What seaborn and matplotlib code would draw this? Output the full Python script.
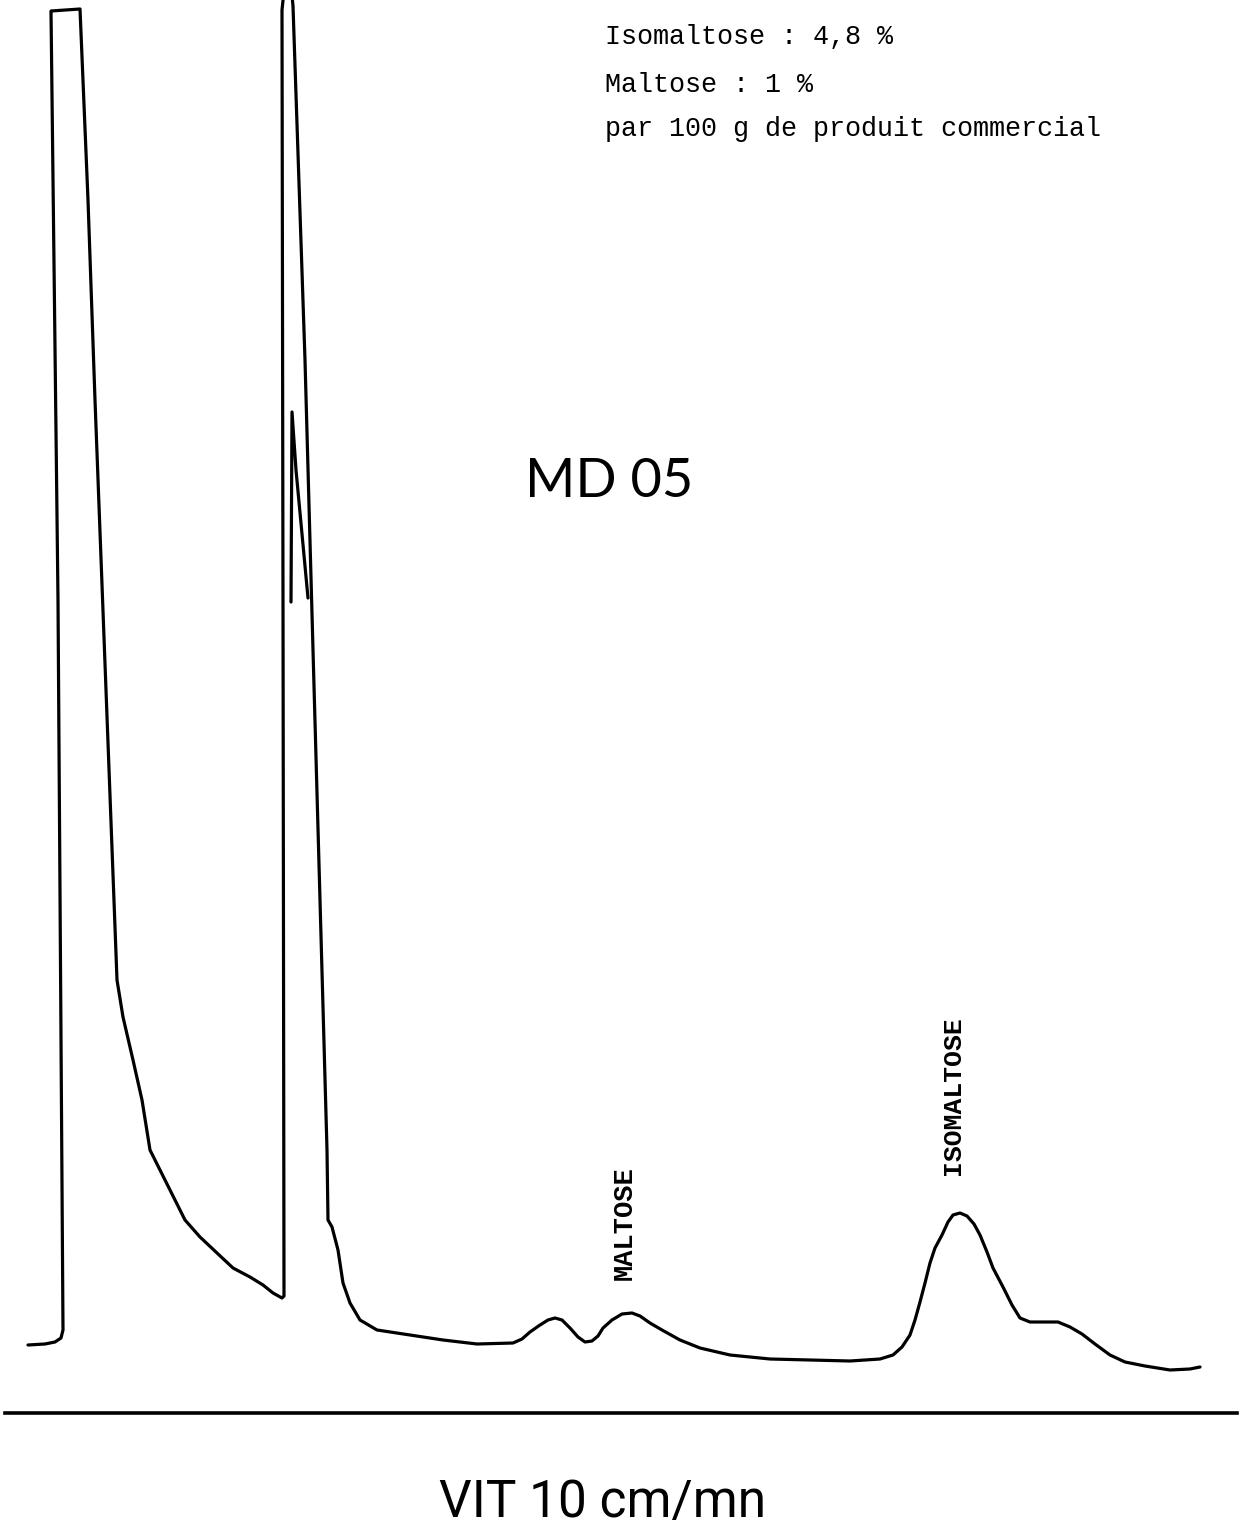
import matplotlib
matplotlib.use("Agg")
import matplotlib.pyplot as plt
from matplotlib import font_manager
import seaborn as sns
import pandas as pd

# ---- data (x = chart position, signal = height above baseline axis)
trace_x = [28, 45, 55, 61, 63, 58, 51, 80, 88, 95, 117, 123, 133, 142, 150, 160, 170, 185, 200, 217,
           233, 250, 263, 273, 282, 284, 283, 282, 288, 293, 305, 313, 327, 328, 332, 338, 343, 350,
           360, 377, 410, 443, 477, 513, 522, 530, 540, 548, 555, 562, 570, 578, 585, 592, 598, 603,
           612, 622, 632, 640, 650, 662, 680, 700, 730, 770, 850, 880, 893, 902, 910, 915, 920, 925,
           930, 935, 942, 948, 953, 960, 967, 974, 980, 987, 993, 1003, 1012, 1020, 1030, 1045, 1058,
           1070, 1082, 1095, 1110, 1125, 1145, 1170, 1190, 1200]
trace_signal = [68, 69, 71, 75, 83, 813, 1402, 1404, 1213, 1013, 433, 396, 353, 313, 263, 243, 223, 193, 176, 160,
                145, 136, 128, 120, 115, 117, 813, 1403, 1460, 1407, 1053, 763, 263, 193, 186, 163, 130, 110,
                93, 83, 78, 73, 69, 70, 74, 81, 88, 93, 95, 93, 85, 76, 71, 72, 77, 85,
                93, 99, 100, 97, 90, 83, 73, 65, 58, 54, 52, 54, 58, 66, 78, 93, 111, 130,
                150, 165, 178, 191, 198, 200, 197, 189, 178, 161, 145, 126, 108, 95, 91, 91, 91,
                86, 79, 69, 58, 51, 47, 43, 44, 46]

overshoot_x = [291, 292, 296, 308]
overshoot_signal = [811, 1001, 943, 815]

info_lines = ["Isomaltose : 4,8 %", "Maltose : 1 %", "par 100 g de produit commercial"]
info_baselines = [1369, 1321, 1277]
peak_labels = ["MALTOSE", "ISOMALTOSE"]
peak_label_x = [625, 953]
peak_label_bottom = [133, 238]
sample_name = "MD 05"
speed_label = "VIT 10 cm/mn"

# ---- fonts
available = {f.name for f in font_manager.fontManager.ttflist}
def pick(*names):
    for n in names:
        if n in available:
            return n
    return "DejaVu Sans"
mono = pick("Liberation Mono", "DejaVu Sans Mono")
narrow = pick("Liberation Sans Narrow", "Roboto", "Liberation Sans")
title_font = pick("Lato", "Open Sans", "DejaVu Sans")

sns.set_theme(style="white")
plt.rcParams["font.family"] = ["DejaVu Sans"]

W, H = 1243, 1527
fig = plt.figure(figsize=(W / 100, H / 100), dpi=100)
ax = fig.add_axes([5 / W, 114 / H, 1232 / W, 1413 / H])
ax.set_facecolor("white")

df = pd.DataFrame({"x": trace_x, "signal": trace_signal})
sns.lineplot(data=df, x="x", y="signal", sort=False, estimator=None, color="black", lw=2.3,
             solid_joinstyle="round", solid_capstyle="round", ax=ax)
df2 = pd.DataFrame({"x": overshoot_x, "signal": overshoot_signal})
sns.lineplot(data=df2, x="x", y="signal", sort=False, estimator=None, color="black", lw=2.3,
             solid_joinstyle="round", ax=ax)

ax.set_xlim(5, 1237)
ax.set_ylim(0, 1413)
for s in ["left", "right", "top"]:
    ax.spines[s].set_visible(False)
ax.spines["bottom"].set_color("black")
ax.spines["bottom"].set_linewidth(2.6)
ax.set_xticks([])
ax.set_yticks([])
ax.set_xlabel("")
ax.set_ylabel("")

for txt, yb in zip(info_lines, info_baselines):
    ax.text(605, yb, txt, family=mono, fontsize=19.3, va="baseline", ha="left", color="black")

ax.text(525, 916, sample_name, family=title_font, fontsize=39, va="baseline", ha="left", color="black")

for lab, lx, lb, fs in zip(peak_labels, peak_label_x, peak_label_bottom, [19.5, 19]):
    ax.text(lx, lb, lab, family=mono, fontsize=fs, fontweight="bold", rotation=90,
            ha="center", va="bottom", color="black")

fig.text(603 / W, 1 - 1517 / H, speed_label, family=narrow, fontsize=37, ha="center", va="baseline", color="black")

fig.savefig("out.png", dpi=100, facecolor="white")
